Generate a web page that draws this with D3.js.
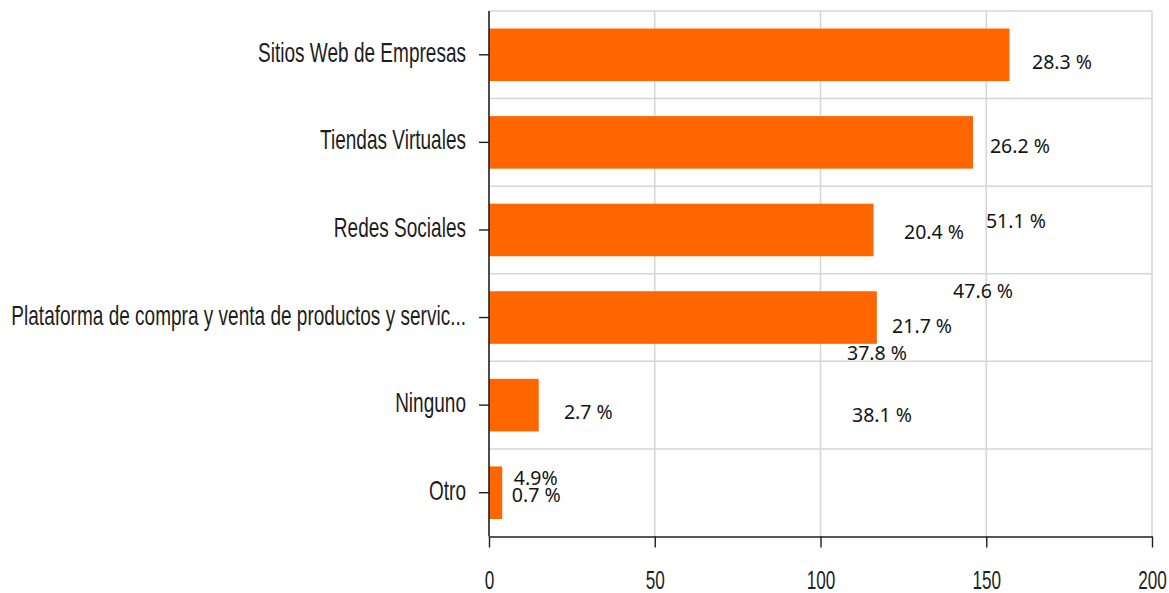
<!DOCTYPE html>
<html>
<head>
<meta charset="utf-8">
<script src="https://cdn.jsdelivr.net/npm/d3@7"></script>
<style>
  html, body { margin: 0; padding: 0; background: #fff; }
  svg { display: block; }
</style>
</head>
<body>
<svg id="chart" width="1169" height="593"></svg>
<script>
// Categories (top to bottom) and their counts
const categories = [
  "Sitios Web de Empresas",
  "Tiendas Virtuales",
  "Redes Sociales",
  "Plataforma de compra y venta de productos y servic...",
  "Ninguno",
  "Otro"
];
const counts = [157, 146, 116, 117, 15, 4];

// Value axis ticks
const xTicks = [0, 50, 100, 150, 200];

// Percentage annotations: text, the category row they sit in
const noteTexts = ["28.3 %", "26.2 %", "20.4 %", "51.1 %", "47.6 %", "21.7 %", "37.8 %", "38.1 %", "2.7 %", "4.9%", "0.7 %"];
const noteRows  = [0, 1, 2, 2, 3, 3, 3, 4, 4, 5, 5];

// Annotation placement: left edge in axis units, baseline offset from row centre (px)
const noteAt  = [163.8, 151.1, 125.2, 149.9, 140.0, 121.6, 108.0, 109.5, 22.6, 7.5, 6.9];
const noteDy  = [14, 10.5, 9, -2, -20, 15, 42, 16.5, 13.5, -8, 9];

const svg = d3.select("#chart");
const plotLeft = 489, plotRight = 1152, plotTop = 11, plotBottom = 536.5;

const x = d3.scaleLinear().domain([0, 200]).range([plotLeft, plotRight]);
const y = d3.scaleBand().domain(categories).range([plotTop, plotBottom])
  .paddingInner(0.4).paddingOuter(0.2);

const gridColor = "#d6d6d6";
const inkColor = "#1e1e1e";

// vertical grid
svg.append("g").selectAll("line").data(xTicks.filter(t => t > 0)).join("line")
  .attr("x1", d => x(d)).attr("x2", d => x(d))
  .attr("y1", plotTop).attr("y2", plotBottom)
  .attr("stroke", gridColor).attr("stroke-width", 1.5);

// horizontal grid at row boundaries
const step = y.step();
svg.append("g").selectAll("line").data(categories).join("line")
  .attr("x1", plotLeft).attr("x2", plotRight)
  .attr("y1", d => y(d) - step * y.paddingInner() / 2)
  .attr("y2", d => y(d) - step * y.paddingInner() / 2)
  .attr("stroke", gridColor).attr("stroke-width", 1.5);

// bars
svg.append("g").selectAll("rect").data(categories).join("rect")
  .attr("x", x(0))
  .attr("y", d => y(d))
  .attr("width", (d, i) => x(counts[i]) - x(0))
  .attr("height", y.bandwidth())
  .attr("fill", "#ff6600");

// condensed axis lettering
const catScale = 0.705, numScale = 0.66;

// category axis
const yAxis = svg.append("g")
  .attr("transform", `translate(${plotLeft},0)`)
  .call(d3.axisLeft(y).tickSize(10).tickSizeOuter(0));
yAxis.attr("font-size", null).attr("font-family", null);
yAxis.select(".domain").attr("stroke", inkColor).attr("stroke-width", 1.6)
  .attr("d", `M0,${plotTop}V${plotBottom}`);
yAxis.selectAll(".tick line").attr("stroke", inkColor).attr("stroke-width", 1.4);
yAxis.selectAll(".tick text")
  .attr("x", null).attr("dy", "0.26em")
  .attr("transform", `translate(-23,0) scale(${catScale},1)`)
  .attr("fill", inkColor)
  .style("font-family", "'Liberation Sans', Arial, sans-serif")
  .style("font-size", "27px");

// value axis
const xAxis = svg.append("g")
  .attr("transform", `translate(0,${plotBottom})`)
  .call(d3.axisBottom(x).tickValues(xTicks).tickSize(11).tickSizeOuter(0));
xAxis.attr("font-size", null).attr("font-family", null);
xAxis.select(".domain").attr("stroke", inkColor).attr("stroke-width", 1.6);
xAxis.selectAll(".tick line").attr("stroke", inkColor).attr("stroke-width", 1.4);
xAxis.selectAll(".tick text")
  .attr("y", null).attr("dy", null)
  .attr("transform", `translate(0,52) scale(${numScale},1)`)
  .attr("fill", inkColor)
  .style("font-family", "'Liberation Sans', Arial, sans-serif")
  .style("font-size", "26px");

// percentage annotations
svg.append("g").selectAll("text").data(noteTexts).join("text")
  .attr("x", (d, i) => x(noteAt[i]))
  .attr("y", (d, i) => y(categories[noteRows[i]]) + y.bandwidth() / 2 + noteDy[i])
  .attr("fill", "#141414")
  .style("font-family", "'Noto Sans', 'Open Sans', sans-serif")
  .style("font-size", "19.5px")
  .text(d => d);
</script>
</body>
</html>
